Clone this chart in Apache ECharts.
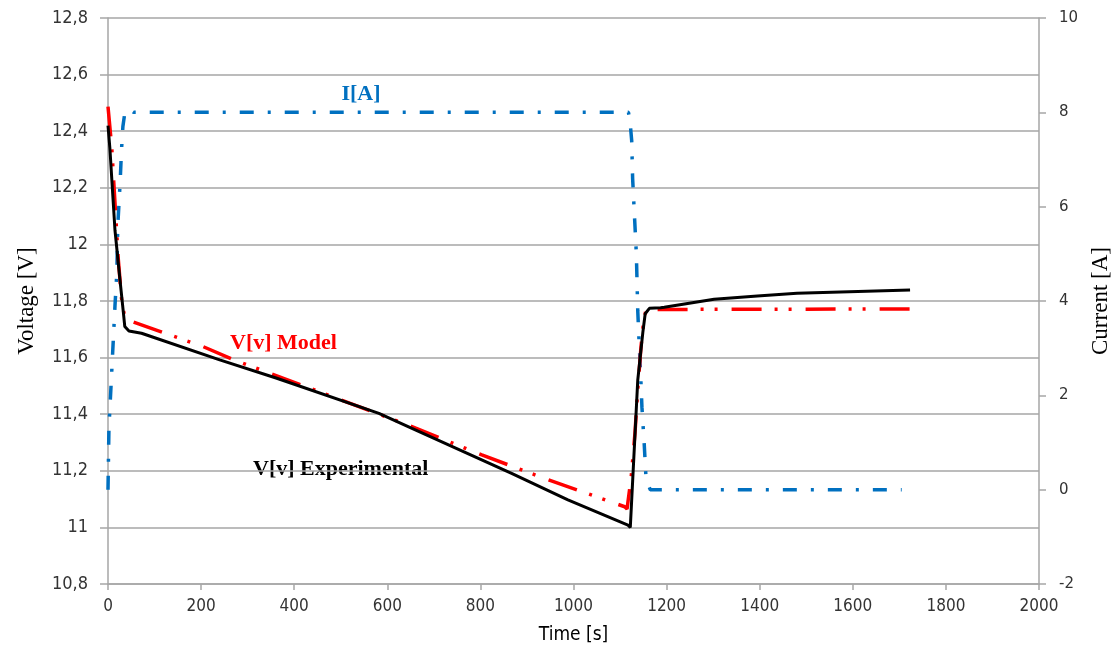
<!DOCTYPE html>
<html>
<head>
<meta charset="utf-8">
<script src="https://cdn.jsdelivr.net/npm/echarts@6/dist/echarts.min.js"></script>
<style>
  html, body { margin: 0; padding: 0; background: #fff; }
</style>
</head>
<body>
<div id="main" style="width: 1120px;height:653px;"></div>
<script>
// tick values of the three axes
var timeTicks = [0, 200, 400, 600, 800, 1000, 1200, 1400, 1600, 1800, 2000];
var voltTicks = [10.8, 11, 11.2, 11.4, 11.6, 11.8, 12, 12.2, 12.4, 12.6, 12.8];
var ampTicks = [-2, 0, 2, 4, 6, 8, 10];

// V[v] Experimental (black)
var expTime = [0, 4, 15, 26, 33, 36, 45, 72, 240, 361, 582, 653, 867, 988, 1117, 1122, 1138, 1149, 1154, 1163, 1187, 1195, 1302, 1395, 1480, 1723];
var expVolt = [12.42, 12.34, 12.05, 11.87, 11.76, 11.71, 11.694, 11.686, 11.592, 11.528, 11.403, 11.35, 11.191, 11.097, 11.008, 11.0, 11.52, 11.69, 11.755, 11.774, 11.776, 11.778, 11.806, 11.818, 11.827, 11.839];

// V[v] Model (red)
var modTime = [0, 8, 22, 29, 36, 47, 204, 267, 453, 539, 653, 803, 946, 1110, 1115, 1124, 1132, 1138, 1145, 1151, 1156, 1722];
var modVolt = [12.487, 12.344, 11.95, 11.81, 11.74, 11.73, 11.639, 11.594, 11.48, 11.427, 11.356, 11.256, 11.168, 11.073, 11.065, 11.179, 11.332, 11.486, 11.639, 11.733, 11.77, 11.772];

// I[A] (blue)
var curTime = [0, 2, 8, 15, 19, 21, 26, 29, 32, 36, 42, 47, 55, 1118, 1121, 1125, 1127, 1131, 1135, 1138, 1141, 1144, 1147, 1152, 1156, 1165, 1705];
var curAmp = [0, 1.3, 2.5, 3.9, 4.6, 5.6, 6.5, 7.2, 7.7, 7.98, 8.07, 8.05, 8.0, 8.0, 7.85, 7.4, 6.6, 5.8, 5.0, 3.8, 3.1, 2.5, 1.75, 0.95, 0.2, 0, 0];

function zip(a, b) {
  return a.map(function (v, i) { return [v, b[i]]; });
}

var narrow = "'Liberation Sans Narrow', 'DejaVu Sans Condensed', sans-serif";
var serif = "'Liberation Serif', 'DejaVu Serif', serif";
var gridGray = '#a6a6a6';

var chartDom = document.getElementById('main');
var myChart = echarts.init(chartDom);
var option;

option = {
  animation: false,
  grid: { left: 108, right: 77, top: 18, bottom: 69 },
  xAxis: {
    type: 'value',
    min: timeTicks[0],
    max: timeTicks[timeTicks.length - 1],
    interval: timeTicks[1] - timeTicks[0],
    name: 'Time [s]',
    nameLocation: 'middle',
    nameGap: 42,
    nameTextStyle: { fontFamily: narrow, fontSize: 19, color: '#000' },
    axisLine: { show: true, onZero: false, lineStyle: { color: gridGray, width: 1.5 } },
    axisTick: { show: true, length: 6, lineStyle: { color: gridGray, width: 1.5 } },
    axisLabel: {
      fontFamily: narrow, fontSize: 17, color: '#333', margin: 14,
      formatter: function (v) { return String(v); }
    },
    splitLine: { show: false }
  },
  yAxis: [
    {
      type: 'value',
      position: 'left',
      min: voltTicks[0],
      max: voltTicks[voltTicks.length - 1],
      interval: 0.2,
      name: 'Voltage [V]',
      nameLocation: 'middle',
      nameRotate: 90,
      nameGap: 70,
      nameTextStyle: { fontFamily: serif, fontSize: 23, color: '#000' },
      axisLine: { show: true, onZero: false, lineStyle: { color: gridGray, width: 1.5 } },
      axisTick: { show: true, length: 8, lineStyle: { color: gridGray, width: 1.5 } },
      axisLabel: {
        fontFamily: narrow, fontSize: 18, color: '#333', margin: 20,
        formatter: function (v) { return String(parseFloat(v.toFixed(2))).replace('.', ','); }
      },
      splitLine: { show: true, lineStyle: { color: gridGray, width: 1.5 } }
    },
    {
      type: 'value',
      position: 'right',
      min: ampTicks[0],
      max: ampTicks[ampTicks.length - 1],
      interval: 2,
      name: 'Current [A]',
      nameLocation: 'middle',
      nameRotate: 90,
      nameGap: 48,
      nameTextStyle: { fontFamily: serif, fontSize: 23, color: '#000' },
      axisLine: { show: true, onZero: false, lineStyle: { color: gridGray, width: 1.5 } },
      axisTick: { show: true, length: 7, lineStyle: { color: gridGray, width: 1.5 } },
      axisLabel: { fontFamily: "'DejaVu Sans', sans-serif", fontSize: 15, color: '#333', margin: 20 },
      splitLine: { show: false }
    }
  ],
  series: [
    {
      name: 'I[A]',
      type: 'line',
      yAxisIndex: 1,
      showSymbol: false,
      data: zip(curTime, curAmp),
      lineStyle: { color: '#0070c0', width: 3.5, type: [14, 14, 3, 14] }
    },
    {
      name: 'V[v] Model',
      type: 'line',
      yAxisIndex: 0,
      showSymbol: false,
      data: zip(modTime, modVolt),
      lineStyle: { color: '#ff0000', width: 3.5, type: [30, 13, 3, 11, 3, 14] }
    },
    {
      name: 'V[v] Experimental',
      type: 'line',
      yAxisIndex: 0,
      showSymbol: false,
      data: zip(expTime, expVolt),
      lineStyle: { color: '#000', width: 3 }
    }
  ],
  graphic: [
    {
      type: 'text', x: 361, y: 94,
      style: { text: 'I[A]', font: 'bold 22px ' + serif, fill: '#0070c0', align: 'center', verticalAlign: 'middle' }
    },
    {
      type: 'text', x: 230, y: 343,
      style: { text: 'V[v] Model', font: 'bold 22px ' + serif, fill: '#ff0000', align: 'left', verticalAlign: 'middle' }
    },
    {
      type: 'text', x: 253, y: 469,
      style: { text: 'V[v] Experimental', font: 'bold 22px ' + serif, fill: '#000', align: 'left', verticalAlign: 'middle' }
    }
  ]
};

option && myChart.setOption(option);
</script>
</body>
</html>
